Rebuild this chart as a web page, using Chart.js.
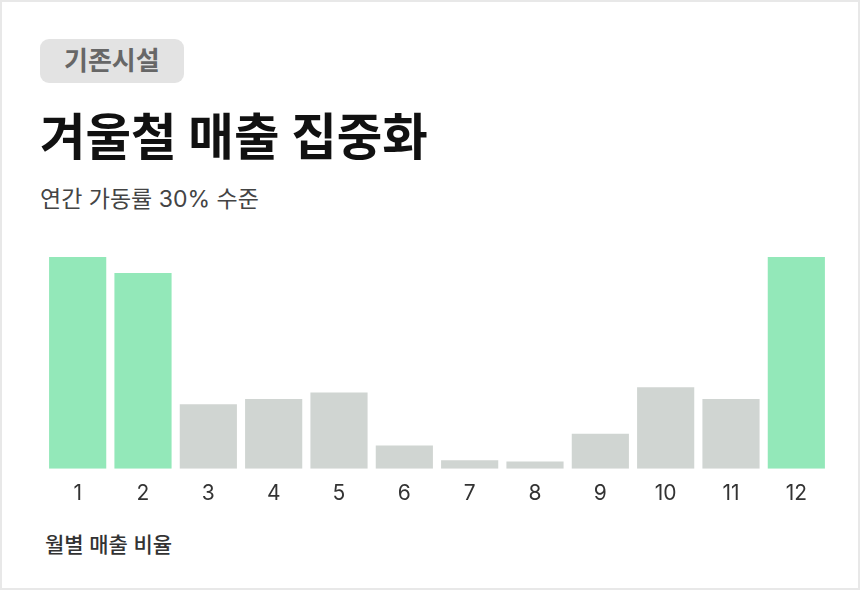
<!DOCTYPE html>
<html lang="ko">
<head>
<meta charset="utf-8">
<script src="https://cdn.jsdelivr.net/npm/chart.js@4"></script>
<style>
    html, body { margin: 0; padding: 0; background: #fff; }
    body { width: 860px; height: 590px; font-family: Inter, "Noto Sans CJK KR", sans-serif; }
    .card {
        position: relative;
        box-sizing: border-box;
        width: 860px;
        height: 590px;
        border: 2px solid #e8e8e8;
        background: #fff;
    }
    .badge {
        position: absolute;
        left: 38px;
        top: 37px;
        height: 44px;
        line-height: 44px;
        padding: 0 24px;
        border-radius: 9px;
        background: #e3e3e3;
        color: #676767;
        font-size: 26px;
        font-weight: 700;
    }
    .title {
        position: absolute;
        left: 38px;
        top: 105px;
        margin: 0;
        font-size: 49.5px;
        font-weight: 700;
        color: #111;
        line-height: 60px;
    }
    .subtitle {
        position: absolute;
        left: 38px;
        top: 182px;
        font-size: 23px;
        color: #444;
        line-height: 30px;
    }
    .chart-wrap {
        position: absolute;
        left: 38px;
        top: 238px;
        width: 800px;
        height: 280px;
    }
    .footer {
        position: absolute;
        left: 43px;
        top: 528px;
        font-size: 21px;
        font-weight: 500;
        color: #333;
        line-height: 30px;
    }
</style>
</head>
<body>
<div class="card">
    <div class="badge">기존시설</div>
    <h1 class="title">겨울철 매출 집중화</h1>
    <div class="subtitle">연간 가동률 30% 수준</div>
    <div class="chart-wrap"><canvas id="sales-chart"></canvas></div>
    <div class="footer">월별 매출 비율</div>
</div>

<script>
// monthly share of sales (%)
const months = ['1', '2', '3', '4', '5', '6', '7', '8', '9', '10', '11', '12'];
const salesShare = [20, 18.5, 6.1, 6.6, 7.2, 2.2, 0.8, 0.7, 3.3, 7.7, 6.6, 20];
const winterMonths = ['1', '2', '12'];

const winterColor = '#93e8b9';
const otherColor = '#d0d5d2';

const barColors = months.map(m => winterMonths.includes(m) ? winterColor : otherColor);

const salesChart = new Chart(document.getElementById('sales-chart').getContext('2d'), {
    type: 'bar',
    data: {
        labels: months,
        datasets: [{
            label: '월별 매출 비율',
            data: salesShare,
            backgroundColor: barColors,
            borderWidth: 0,
            barPercentage: 0.875,
            categoryPercentage: 1
        }]
    },
    options: {
        responsive: true,
        maintainAspectRatio: false,
        animation: false,
        layout: {
            padding: { left: 5, right: 11, top: 17, bottom: 2 }
        },
        plugins: {
            legend: { display: false },
            tooltip: { enabled: false }
        },
        scales: {
            x: {
                border: { display: false },
                grid: { display: false, drawTicks: false },
                ticks: {
                    color: '#333',
                    padding: 12,
                    font: { family: 'Inter, "Noto Sans CJK KR", sans-serif', size: 21 }
                }
            },
            y: {
                display: false,
                min: 0,
                max: 20
            }
        }
    }
});
</script>
</body>
</html>
